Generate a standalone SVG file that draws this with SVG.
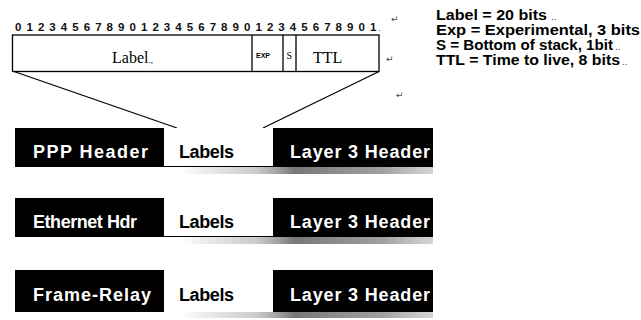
<svg xmlns="http://www.w3.org/2000/svg" width="641" height="320" viewBox="0 0 641 320">
<defs>
<linearGradient id="shade" x1="0" y1="0" x2="1" y2="0">
<stop offset="0" stop-color="#888" stop-opacity="0"/>
<stop offset="0.3" stop-color="#999" stop-opacity="0.5"/>
<stop offset="0.45" stop-color="#555" stop-opacity="0.8"/>
<stop offset="0.8" stop-color="#777" stop-opacity="0.7"/>
<stop offset="1" stop-color="#aaa" stop-opacity="0.5"/>
</linearGradient>
</defs>
<style>
.bits{font-family:"Liberation Sans",Arial,sans-serif;font-size:11.5px;font-weight:bold;fill:#111}
.serif{font-family:"Liberation Serif","Times New Roman",serif;font-size:16px;fill:#000}
.box{fill:#fff;stroke:#000;stroke-width:1.3}
.band{fill:#000}
.lab{fill:#fff}
.wt{font-family:"Liberation Sans",Arial,sans-serif;font-size:18px;font-weight:bold;fill:#fff}
.bt{font-family:"Liberation Sans",Arial,sans-serif;font-size:18px;font-weight:bold;fill:#000}
.leg{font-family:"Liberation Sans",Arial,sans-serif;font-size:14.5px;font-weight:bold;fill:#000}
.mark{font-family:"DejaVu Sans",sans-serif;font-size:9px;fill:#444}
.conn{stroke:#000;stroke-width:1.3;fill:none}
</style>
<rect width="641" height="320" fill="#fff"/>

<g id="bit-ruler">
<text class="bits" x="15 26.45 37.9 49.35 60.8 72.25 83.7 95.15 106.6 118.05 129.5 140.95 152.4 163.85 175.3 186.75 198.2 209.65 221.1 232.55 244 255.45 266.9 278.35 289.8 301.25 312.7 324.15 335.6 347.05 358.5 369.95" y="31">01234567890123456789012345678901</text>
<text class="mark" x="378" y="31">.</text>
<text class="mark" x="391" y="22">↵</text>
</g>

<g id="mpls-header">
<rect class="box" x="12.5" y="35" width="366.5" height="36.5"/>
<line class="conn" x1="252" y1="35" x2="252" y2="71.5"/>
<line class="conn" x1="283" y1="35" x2="283" y2="71.5"/>
<line class="conn" x1="296" y1="35" x2="296" y2="71.5"/>
<text class="serif" x="112" y="63">Label<tspan font-size="9">.,</tspan></text>
<text font-family="Liberation Sans,Arial,sans-serif" font-size="7" font-weight="bold" x="256" y="58">EXP</text>
<text font-family="Liberation Serif,serif" font-size="10" x="286.5" y="59">S</text>
<text class="serif" x="313" y="63">TTL</text>
<text class="mark" x="386" y="62">↵</text>
<text class="mark" x="396" y="98">↵</text>
</g>

<g id="legend">
<text class="leg" x="436" y="19.5" textLength="111" lengthAdjust="spacingAndGlyphs">Label = 20 bits</text>
<text class="mark" x="551" y="19.5">..</text>
<text class="leg" x="436" y="34.5" textLength="204" lengthAdjust="spacingAndGlyphs">Exp = Experimental, 3 bits</text>
<text class="leg" x="436" y="49.5" textLength="177" lengthAdjust="spacingAndGlyphs">S = Bottom of stack, 1bit</text>
<text class="mark" x="615" y="49.5">..</text>
<text class="leg" x="436" y="64.5" textLength="184" lengthAdjust="spacingAndGlyphs">TTL = Time to live, 8 bits</text>
<text class="mark" x="622" y="64.5">..</text>
</g>

<g id="connectors">
<line class="conn" x1="14" y1="71.5" x2="177" y2="128"/>
<line class="conn" x1="379" y1="71.5" x2="263" y2="128"/>
</g>

<g id="ppp-row">
<rect x="180" y="167" width="253" height="7" fill="url(#shade)"/>
<rect class="band" x="15" y="128" width="418" height="39"/>
<rect class="lab" x="164" y="128" width="109" height="38"/>
<text class="wt" x="33" y="158" textLength="115">PPP Header</text>
<text class="bt" x="179" y="158" textLength="55">Labels</text>
<text class="wt" x="290" y="158" textLength="140">Layer 3 Header</text>
</g>

<g id="ethernet-row">
<rect x="180" y="237" width="253" height="7" fill="url(#shade)"/>
<rect class="band" x="15" y="198" width="418" height="39"/>
<rect class="lab" x="164" y="198" width="109" height="38"/>
<text class="wt" x="33" y="228" textLength="104">Ethernet Hdr</text>
<text class="bt" x="179" y="228" textLength="55">Labels</text>
<text class="wt" x="290" y="228" textLength="140">Layer 3 Header</text>
</g>

<g id="frame-relay-row">
<rect x="180" y="312" width="253" height="6" fill="url(#shade)"/>
<rect class="band" x="15" y="270" width="418" height="42"/>
<rect class="lab" x="164" y="270" width="109" height="42"/>
<text class="wt" x="33" y="301" textLength="118">Frame-Relay</text>
<text class="bt" x="179" y="301" textLength="55">Labels</text>
<text class="wt" x="290" y="301" textLength="140">Layer 3 Header</text>
</g>
</svg>
